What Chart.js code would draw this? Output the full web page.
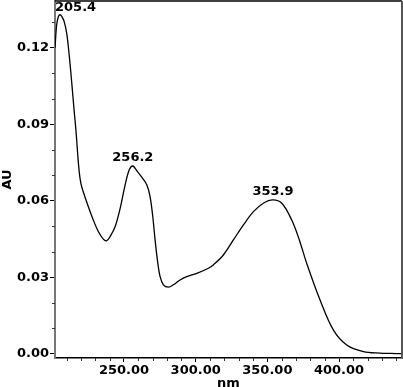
<!DOCTYPE html>
<html>
<head>
<meta charset="utf-8">
<script src="https://cdn.jsdelivr.net/npm/chart.js@4/dist/chart.umd.min.js"></script>
<style>
html,body{margin:0;padding:0;background:#fff;}
canvas{display:block;}
</style>
</head>
<body>
<canvas id="c" width="403" height="387"></canvas>
<script>
// Wavelength (nm) and absorbance (AU)
const wavelengths = [201.9, 203.1, 204.3, 205.4, 206.6, 208.2, 210.1, 211.9, 213.6, 215.2, 216.6, 217.8, 218.9, 220.0, 221.2, 225.1, 228.6, 232.1, 235.6, 238.0, 240.3, 243.8, 247.3, 250.7, 253.7, 256.2, 258.9, 262.4, 265.9, 268.2, 270.1, 271.7, 273.3, 275.2, 277.5, 281.0, 284.4, 289.1, 293.8, 300.8, 308.9, 312.3, 319.3, 326.3, 333.3, 340.3, 347.2, 353.9, 360.1, 367.0, 372.3, 377.4, 386.7, 396.0, 405.3, 417.0, 428.6, 436.0, 443.9];
const absorbance  = [0.1200, 0.1293, 0.1323, 0.1330, 0.1324, 0.1305, 0.1256, 0.1166, 0.1062, 0.0957, 0.0870, 0.0778, 0.0708, 0.0668, 0.0643, 0.0578, 0.0525, 0.0480, 0.0450, 0.0444, 0.0460, 0.0499, 0.0570, 0.0660, 0.0722, 0.0737, 0.0719, 0.0693, 0.0663, 0.0617, 0.0538, 0.0447, 0.0369, 0.0303, 0.0271, 0.0262, 0.0271, 0.0290, 0.0303, 0.0316, 0.0336, 0.0349, 0.0388, 0.0447, 0.0506, 0.0558, 0.0591, 0.0604, 0.0591, 0.0525, 0.0447, 0.0356, 0.0212, 0.0094, 0.0035, 0.0009, 0.0003, 0.0002, 0.0001];

const peakNm     = [205.4, 256.2, 353.9];
const peakAU     = [0.1330, 0.0737, 0.0604];
const peakLabels = ['205.4', '256.2', '353.9'];

const xMajorTicks = [250, 300, 350, 400];
const xMinorTicks = [210, 220, 230, 240, 260, 270, 280, 290, 310, 320, 330, 340, 360, 370, 380, 390, 410, 420, 430, 440];
const yMajorTicks = [0.00, 0.03, 0.06, 0.09, 0.12];
const yMinorTicks = [0.01, 0.02, 0.04, 0.05, 0.07, 0.08, 0.10, 0.11, 0.13];

const FONT = 'DejaVu Sans';

const framePlugin = {
  id: 'frame',
  afterDraw(chart) {
    const {ctx, chartArea: a, scales: {x, y}} = chart;
    ctx.save();
    // minor ticks
    ctx.strokeStyle = '#333';
    ctx.lineWidth = 1;
    xMinorTicks.forEach(v => {
      const px = Math.round(x.getPixelForValue(v)) + 0.5;
      ctx.beginPath(); ctx.moveTo(px, a.bottom); ctx.lineTo(px, a.bottom + 3); ctx.stroke();
    });
    yMinorTicks.forEach(v => {
      const py = Math.round(y.getPixelForValue(v)) + 0.5;
      if (py < a.top) return;
      ctx.beginPath(); ctx.moveTo(a.left - 3, py); ctx.lineTo(a.left, py); ctx.stroke();
    });
    // top and right frame
    ctx.strokeStyle = '#000';
    ctx.lineWidth = 1.5;
    ctx.beginPath(); ctx.moveTo(a.left, a.top); ctx.lineTo(a.right, a.top); ctx.stroke();
    ctx.strokeStyle = '#555';
    ctx.lineWidth = 2;
    ctx.beginPath(); ctx.moveTo(a.right, a.top); ctx.lineTo(a.right, a.bottom); ctx.stroke();
    // peak labels
    ctx.font = 'bold 13px "' + FONT + '"';
    ctx.fillStyle = '#000';
    ctx.textBaseline = 'middle';
    ctx.textAlign = 'left';
    peakNm.forEach((nm, i) => {
      const px = x.getPixelForValue(nm);
      const py = y.getPixelForValue(peakAU[i]);
      const w = ctx.measureText(peakLabels[i]).width;
      let left = px - w / 2;
      if (left < a.left) left = a.left;
      let cy = py - 8;
      if (cy - 6 < a.top) cy = a.top + 7;
      ctx.fillText(peakLabels[i], left, cy);
    });
    ctx.restore();
  }
};

function zeroPad(s) { s.paddingTop = 0; s.paddingBottom = 0; s.paddingLeft = 0; s.paddingRight = 0; }

new Chart(document.getElementById('c'), {
  type: 'line',
  data: {
    datasets: [{
      data: wavelengths.map((w, i) => ({x: w, y: absorbance[i]})),
      borderColor: '#000',
      borderWidth: 1.3,
      pointRadius: 0,
      tension: 0.35,
      fill: false
    }]
  },
  options: {
    responsive: false,
    devicePixelRatio: 1,
    animation: false,
    layout: {padding: {top: 1, right: 1, left: 0, bottom: 0}},
    plugins: {legend: {display: false}, tooltip: {enabled: false}},
    scales: {
      x: {
        type: 'linear',
        min: 201.9,
        max: 443.9,
        afterBuildTicks: s => { s.ticks = xMajorTicks.map(v => ({value: v})); },
        afterFit: s => { s.height = 29; zeroPad(s); },
        ticks: {
          callback: v => Number(v).toFixed(2),
          font: {family: FONT, size: 13, weight: 'bold'},
          color: '#000',
          padding: 1,
          maxRotation: 0,
          autoSkip: false
        },
        grid: {drawOnChartArea: false, drawTicks: true, tickLength: 4, tickColor: '#000'},
        border: {color: '#000', width: 1.5},
        title: {display: true, text: 'nm', font: {family: FONT, size: 13, weight: 'bold'}, color: '#000', padding: {top: 0, bottom: -4}}
      },
      y: {
        type: 'linear',
        min: -0.0016,
        max: 0.1384,
        afterBuildTicks: s => { s.ticks = yMajorTicks.map(v => ({value: v})); },
        afterFit: s => { s.width = 55; zeroPad(s); },
        ticks: {
          callback: v => Number(v).toFixed(2),
          font: {family: FONT, size: 13, weight: 'bold'},
          color: '#000',
          padding: 1,
          autoSkip: false
        },
        grid: {drawOnChartArea: false, drawTicks: true, tickLength: 5, tickColor: '#000'},
        border: {color: '#777', width: 2},
        title: {display: true, text: 'AU', font: {family: FONT, size: 13, weight: 'bold'}, color: '#000', padding: {top: 0, bottom: 0}}
      }
    }
  },
  plugins: [framePlugin]
});
</script>
</body>
</html>
